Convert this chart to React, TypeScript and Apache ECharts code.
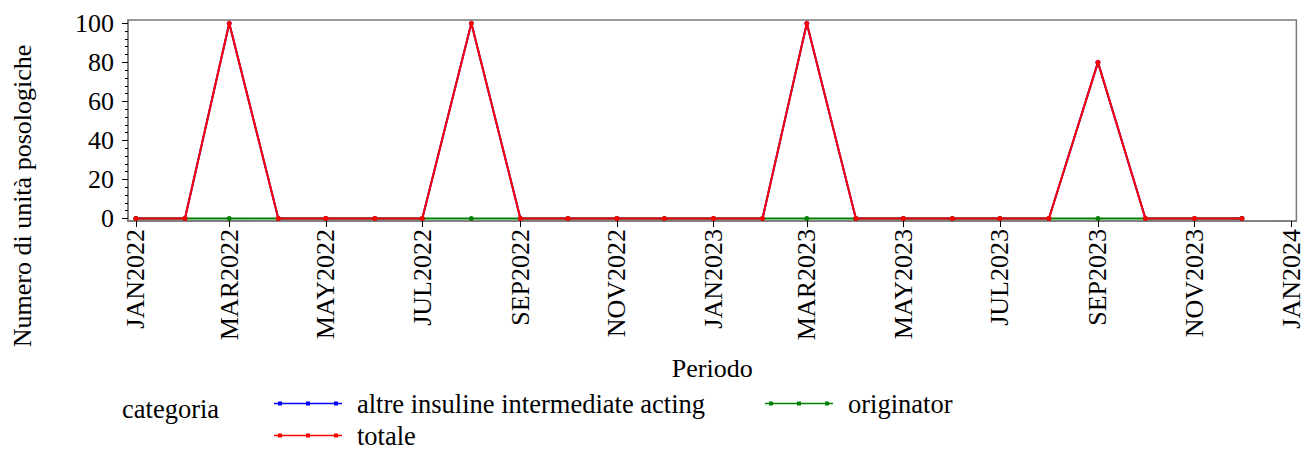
import { useEffect, useRef } from 'react';
import * as echarts from 'echarts';

// ---- DATA ----
const periods = [
  '2022-01', '2022-02', '2022-03', '2022-04', '2022-05', '2022-06',
  '2022-07', '2022-08', '2022-09', '2022-10', '2022-11', '2022-12',
  '2023-01', '2023-02', '2023-03', '2023-04', '2023-05', '2023-06',
  '2023-07', '2023-08', '2023-09', '2023-10', '2023-11', '2023-12',
];
const altre = [0, 0, 100, 0, 0, 0, 0, 100, 0, 0, 0, 0, 0, 0, 100, 0, 0, 0, 0, 0, 80, 0, 0, 0];
const originator = [0, 0, 0, 0, 0, 0, 0, 0, 0, 0, 0, 0, 0, 0, 0, 0, 0, 0, 0, 0, 0, 0, 0, 0];
const totale = [0, 0, 100, 0, 0, 0, 0, 100, 0, 0, 0, 0, 0, 0, 100, 0, 0, 0, 0, 0, 80, 0, 0, 0];

const xTickDates = ['2022-01', '2022-03', '2022-05', '2022-07', '2022-09', '2022-11',
  '2023-01', '2023-03', '2023-05', '2023-07', '2023-09', '2023-11', '2024-01'];
const xTickLabels = ['JAN2022', 'MAR2022', 'MAY2022', 'JUL2022', 'SEP2022', 'NOV2022',
  'JAN2023', 'MAR2023', 'MAY2023', 'JUL2023', 'SEP2023', 'NOV2023', 'JAN2024'];
const yTicks = [0, 20, 40, 60, 80, 100];
const yMinorTicks = [4, 8, 12, 16, 24, 28, 32, 36, 44, 48, 52, 56, 64, 68, 72, 76, 84, 88, 92, 96];

const seriesNames = ['altre insuline intermediate acting', 'originator', 'totale'];
const seriesColors = ['#0000ff', '#008000', '#ff0000'];

const FONT = "'Liberation Serif', serif";
const DAY = 86400000;
const ts = (p: string) => {
  const [y, m] = p.split('-').map(Number);
  return Date.UTC(y, m - 1, 1);
};
const xTickVals = xTickDates.map(ts);

const legendIcon =
  'path://M0,2.3 L68,2.3 L68,3.7 L0,3.7 Z M4,1 L8,1 L8,5 L4,5 Z M32,1 L36,1 L36,5 L32,5 Z M60,1 L64,1 L64,5 L60,5 Z';

export default function App() {
  const ref = useRef<HTMLDivElement>(null);

  useEffect(() => {
    if (!ref.current) return;
    const chart = echarts.init(ref.current, undefined, { renderer: 'svg' });
    const values = [altre, originator, totale];

    const legendPos = [
      { left: 274, top: 390 },
      { left: 765, top: 390 },
      { left: 274, top: 422 },
    ];

    chart.setOption({
      animation: false,
      backgroundColor: '#ffffff',
      textStyle: { fontFamily: FONT },
      grid: {
        left: 128,
        right: 6,
        top: 20,
        bottom: 229,
        show: true,
        borderColor: '#7a7a7a',
        borderWidth: 1.5,
        backgroundColor: 'transparent',
      },
      xAxis: {
        type: 'value',
        min: ts('2022-01') - 5 * DAY,
        max: ts('2024-01') + 3.4 * DAY,
        axisLine: { show: true, onZero: false, lineStyle: { color: '#7a7a7a', width: 1.5 } },
        axisTick: {
          show: true,
          customValues: xTickVals,
          length: 6,
          lineStyle: { color: '#000', width: 1 },
        },
        axisLabel: {
          customValues: xTickVals,
          rotate: 90,
          margin: 8,
          fontSize: 26,
          fontFamily: FONT,
          color: '#000',
          formatter: (v: number) => {
            const i = xTickVals.indexOf(v);
            return i >= 0 ? xTickLabels[i] : '';
          },
        },
        splitLine: { show: false },
        name: 'Periodo',
        nameLocation: 'middle',
        nameGap: 134,
        nameTextStyle: { fontSize: 26, fontFamily: FONT, color: '#000' },
      },
      yAxis: [
        {
          type: 'value',
          min: -1.3,
          max: 101.7,
          axisLine: { show: true, onZero: false, lineStyle: { color: '#7a7a7a', width: 1.5 } },
          axisTick: {
            show: true,
            customValues: yTicks,
            length: 6,
            lineStyle: { color: '#000', width: 1 },
          },
          axisLabel: {
            customValues: yTicks,
            margin: 14,
            fontSize: 26,
            fontFamily: FONT,
            color: '#000',
          },
          splitLine: { show: false },
        },
        {
          type: 'value',
          min: -1.3,
          max: 101.7,
          position: 'left',
          axisLine: { show: false, onZero: false },
          axisTick: {
            show: true,
            customValues: yMinorTicks,
            length: 3,
            lineStyle: { color: '#000', width: 1 },
          },
          axisLabel: { show: false },
          splitLine: { show: false },
        },
      ],
      legend: seriesNames.map((n, i) => ({
        data: [n],
        left: legendPos[i].left,
        top: legendPos[i].top,
        padding: 0,
        itemWidth: 68,
        itemHeight: 5,
        icon: legendIcon,
        textStyle: {
          fontSize: 26.5,
          fontFamily: FONT,
          color: '#000',
          padding: [12, 0, 0, 10],
        },
      })),
      graphic: [
        {
          type: 'text',
          x: 22,
          y: 196,
          rotation: Math.PI / 2,
          style: {
            text: 'Numero di unità posologiche',
            font: "26px 'Liberation Serif', serif",
            fill: '#000',
            textAlign: 'center',
            textVerticalAlign: 'middle',
          },
        },
        {
          type: 'text',
          x: 122,
          y: 409,
          style: {
            text: 'categoria',
            font: "26.5px 'Liberation Serif', serif",
            fill: '#000',
            textAlign: 'left',
            textVerticalAlign: 'middle',
          },
        },
      ],
      series: seriesNames.map((n, i) => ({
        name: n,
        type: 'line',
        yAxisIndex: 0,
        data: periods.map((p, j) => [ts(p), values[i][j]]),
        color: seriesColors[i],
        symbol: 'circle',
        symbolSize: 5,
        showSymbol: true,
        lineStyle: { width: 2, color: seriesColors[i] },
        itemStyle: { color: seriesColors[i] },
        emphasis: { disabled: true },
        z: 2 + i,
      })),
    });

    return () => chart.dispose();
  }, []);

  return (
    <div
      ref={ref}
      style={{ position: 'fixed', left: 0, top: 0, width: 1304, height: 450 }}
    />
  );
}
